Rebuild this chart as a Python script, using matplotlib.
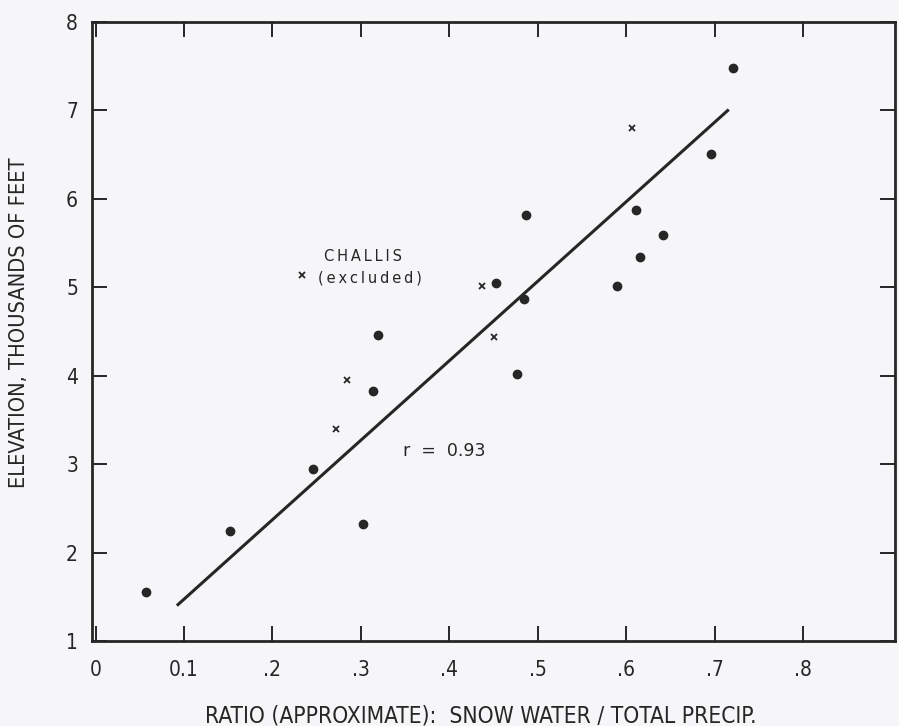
import numpy as np
import matplotlib.pyplot as plt

# stations used in the fit (dots)
ratio_in = [0.057, 0.152, 0.246, 0.302, 0.314, 0.319, 0.453, 0.485, 0.476,
            0.487, 0.590, 0.616, 0.642, 0.611, 0.696, 0.721]
elev_in = [1.55, 2.24, 2.94, 2.32, 3.83, 4.46, 5.05, 4.87, 4.02,
           5.82, 5.01, 5.34, 5.59, 5.87, 6.51, 7.48]

# stations plotted as x
ratio_x = [0.233, 0.272, 0.284, 0.437, 0.451, 0.607]
elev_x = [5.14, 3.40, 3.95, 5.02, 4.44, 6.80]

# regression line ends
fit_x = [0.092, 0.716]
fit_y = [1.40, 7.01]

xticks = [0, 0.1, 0.2, 0.3, 0.4, 0.5, 0.6, 0.7, 0.8]
xlabels = ['0', '0.1', '.2', '.3', '.4', '.5', '.6', '.7', '.8']
yticks = [1, 2, 3, 4, 5, 6, 7, 8]

bg = '#f6f5f8'
ink = '#262626'
lab_kw = dict(family='DejaVu Sans', stretch='condensed', color=ink)

fig = plt.figure(figsize=(8.99, 7.26), dpi=100, facecolor=bg)
ax = fig.add_axes([0.1023, 0.1171, 0.8933, 0.8526], facecolor=bg)

ax.plot(fit_x, fit_y, color=ink, lw=2.2, solid_capstyle='butt')
ax.plot(ratio_in, elev_in, 'o', color=ink, ms=6, mec=ink)
ax.plot(ratio_x, elev_x, 'x', color=ink, ms=4, mew=1.3)

ax.text(0.303, 5.35, 'C\u2009H\u2009A\u2009L\u2009L\u2009I\u2009S', ha='center', va='center',
        fontsize=10.5, color=ink, family='DejaVu Sans')
ax.text(0.310, 5.10, '(\u2009e\u2009x\u2009c\u2009l\u2009u\u2009d\u2009e\u2009d\u2009)', ha='center', va='center',
        fontsize=10.5, color=ink, family='DejaVu Sans')
ax.text(0.394, 3.15, 'r  =  0.93', ha='center', va='center',
        fontsize=12.5, color=ink, family='DejaVu Sans')

ax.set_xlim(-0.004, 0.904)
ax.set_ylim(1, 8)
ax.set_xticks(xticks)
ax.set_xticklabels(xlabels)
ax.set_yticks(yticks)

ax.tick_params(direction='in', length=11, width=1.4, color=ink,
               top=True, right=True, labelsize=15, labelcolor=ink)
ax.tick_params(axis='x', pad=14)
ax.tick_params(axis='y', pad=10)
for lab in ax.get_xticklabels() + ax.get_yticklabels():
    lab.set_family('DejaVu Sans')
    lab.set_stretch('condensed')

for s in ax.spines.values():
    s.set_linewidth(2)
    s.set_color(ink)

ax.set_xlabel('RATIO (APPROXIMATE):  SNOW WATER / TOTAL PRECIP.', fontsize=16.3, **lab_kw)
ax.set_ylabel('ELEVATION, THOUSANDS OF FEET', fontsize=15.7, **lab_kw)
ax.xaxis.set_label_coords(0.484, -0.103)
ax.yaxis.set_label_coords(-0.079, 0.515)

fig.savefig('out.png', dpi=100, facecolor=bg)
